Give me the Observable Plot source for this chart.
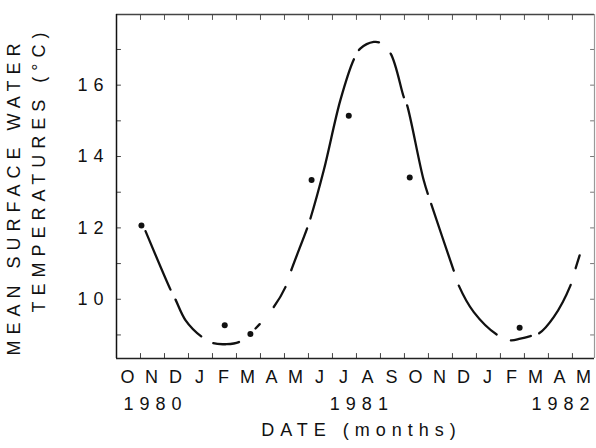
<!DOCTYPE html>
<html>
<head>
<meta charset="utf-8">
<script src="https://cdn.jsdelivr.net/npm/d3@7"></script>
<script src="https://cdn.jsdelivr.net/npm/@observablehq/plot@0.6"></script>
<style>
  body { margin: 0; background: #fff; }
  #chart svg text { letter-spacing: 6px; }
  #chart svg g[aria-label="x-axis tick label"] text { letter-spacing: 0; }
</style>
</head>
<body>
<div id="chart"></div>
<script>
// Time axis is counted in months from 1 October 1980.
const monthLabels = ["O","N","D","J","F","M","A","M","J","J","A","S","O","N","D","J","F","M","A","M"];
const yearLabels = ["1980", "1981", "1982"];
const yearMonth = [1.5, 10.1, 18.5];
const tempTicks = [10, 12, 14, 16];
const minorTempTicks = [9, 10, 11, 12, 13, 14, 15, 16, 17];
const xTitle = "DATE (months)";
const yTitle = ["MEAN SURFACE WATER", "TEMPERATURES (°C)"];

// Measured mean surface water temperatures (°C)
const sampleMonth = [1.04, 4.51, 5.58, 8.13, 9.68, 12.22, 16.80];
const sampleTemp  = [12.07, 9.27, 9.03, 13.34, 15.14, 13.41, 9.20];

// Fitted seasonal curve
const fitMonth = [1.21, 2.25, 2.46, 2.88, 3.53, 4.03, 4.54, 5.10, 5.79, 6.55, 7.04, 7.28, 7.94, 8.08, 8.64, 9.33, 9.89, 10.17, 10.72, 10.97, 11.42, 11.97, 12.11, 12.80, 13.11, 14.05, 14.26, 14.89, 15.83, 16.42, 16.83, 17.25, 17.60, 18.22, 18.92, 19.13, 19.30];
const fitTemp  = [11.91, 10.27, 9.99, 9.41, 8.96, 8.77, 8.74, 8.80, 9.18, 9.78, 10.34, 10.81, 11.98, 12.26, 13.62, 15.58, 16.72, 17.03, 17.21, 17.19, 16.89, 15.67, 15.44, 13.34, 12.68, 10.81, 10.39, 9.64, 9.02, 8.85, 8.90, 8.97, 9.04, 9.50, 10.39, 10.86, 11.23];

const samples = sampleMonth.map((m, i) => ({month: m, temp: sampleTemp[i]}));
const fit = fitMonth.map((m, i) => ({month: m, temp: fitTemp[i]}));
const monthEdges = monthLabels.slice(1).map((_, i) => i + 1);
const monthCenters = monthLabels.map((_, i) => i + 0.46);
const years = yearLabels.map((t, i) => ({label: t, month: yearMonth[i]}));

const xDomain = [0, 19.92];
const yDomain = [8.34, 17.98];
const tick = {draw(ctx, l) { ctx.moveTo(0, 0); ctx.lineTo(0, -l); }};
const ink = "#111";

const chart = Plot.plot({
  width: 596,
  height: 448,
  marginLeft: 116,
  marginRight: 2,
  marginTop: 14,
  marginBottom: 90,
  style: {fontFamily: "'Liberation Sans', Arial, sans-serif", fontSize: "18px", color: ink, background: "#fff"},
  x: {domain: xDomain, axis: null},
  y: {domain: yDomain, axis: null},
  marks: [
    // inward ticks on all four sides
    Plot.vector(monthEdges, {x: d => d, frameAnchor: "bottom", length: 5, rotate: 0, anchor: "start", shape: tick, stroke: "#444", strokeWidth: 1}),
    Plot.vector(monthEdges, {x: d => d, frameAnchor: "top", length: 5, rotate: 180, anchor: "start", shape: tick, stroke: "#555", strokeWidth: 1}),
    Plot.vector(minorTempTicks, {y: d => d, frameAnchor: "left", length: 4, rotate: 90, anchor: "start", shape: tick, stroke: "#444", strokeWidth: 1}),
    Plot.vector(minorTempTicks, {y: d => d, frameAnchor: "right", length: 4, rotate: -90, anchor: "start", shape: tick, stroke: "#777", strokeWidth: 1}),
    // box: dark left and bottom edges, lighter top and right edges
    Plot.ruleY([yDomain[1]], {stroke: "#444", strokeWidth: 1.3}),
    Plot.ruleX([xDomain[1]], {stroke: "#999", strokeWidth: 1.2}),
    Plot.ruleY([yDomain[0]], {stroke: "#222", strokeWidth: 1.4}),
    Plot.ruleX([xDomain[0]], {stroke: "#111", strokeWidth: 1.5}),
    Plot.axisY(tempTicks, {label: null, tickSize: 0, tickPadding: 7, tickFormat: d => String(d)}),
    Plot.axisX(monthCenters, {label: null, tickSize: 0, tickPadding: 12, tickFormat: d => monthLabels[Math.floor(d)]}),
    Plot.text(years, {x: "month", text: "label", frameAnchor: "bottom", dy: 51, dx: 3}),
    Plot.text([xTitle], {text: d => d, frameAnchor: "bottom", dx: 6, dy: 77}),
    Plot.text([yTitle[0]], {text: d => d, frameAnchor: "left", textAnchor: "middle", rotate: -90, dx: -102.5, dy: 10}),
    Plot.text([yTitle[1]], {text: d => d, frameAnchor: "left", textAnchor: "middle", rotate: -90, dx: -77, dy: -17}),
    Plot.line(fit, {x: "month", y: "temp", curve: "catmull-rom", stroke: ink, strokeWidth: 2.3}),
    Plot.dot(samples, {x: "month", y: "temp", r: 3, fill: ink})
  ]
});
document.getElementById("chart").append(chart);

// Broken-line style for the fitted curve: the pen lifts over these month spans.
const penLifts = [[2.25, 2.46], [3.53, 4.03], [5.10, 5.79], [5.97, 6.55], [7.04, 7.28], [7.94, 8.08],
  [9.89, 10.10], [10.93, 11.42], [11.97, 12.11], [12.97, 13.11], [14.05, 14.26], [15.83, 16.42],
  [17.25, 17.60], [18.92, 19.13]];
const path = chart.querySelector('g[aria-label="line"] path');
const sx = chart.scale("x");
const total = path.getTotalLength();
function lengthAtMonth(m) {
  const px = sx.apply(m);
  let lo = 0, hi = total;
  for (let k = 0; k < 40; k++) {
    const mid = (lo + hi) / 2;
    if (path.getPointAtLength(mid).x < px) lo = mid; else hi = mid;
  }
  return (lo + hi) / 2;
}
const dashes = [];
let pos = 0;
for (const [a, b] of penLifts) {
  const s = lengthAtMonth(a), e = lengthAtMonth(b);
  dashes.push((s - pos).toFixed(2), (e - s).toFixed(2));
  pos = e;
}
dashes.push((total - pos + 1).toFixed(2), total.toFixed(2));
path.setAttribute("stroke-dasharray", dashes.join(","));
</script>
</body>
</html>
